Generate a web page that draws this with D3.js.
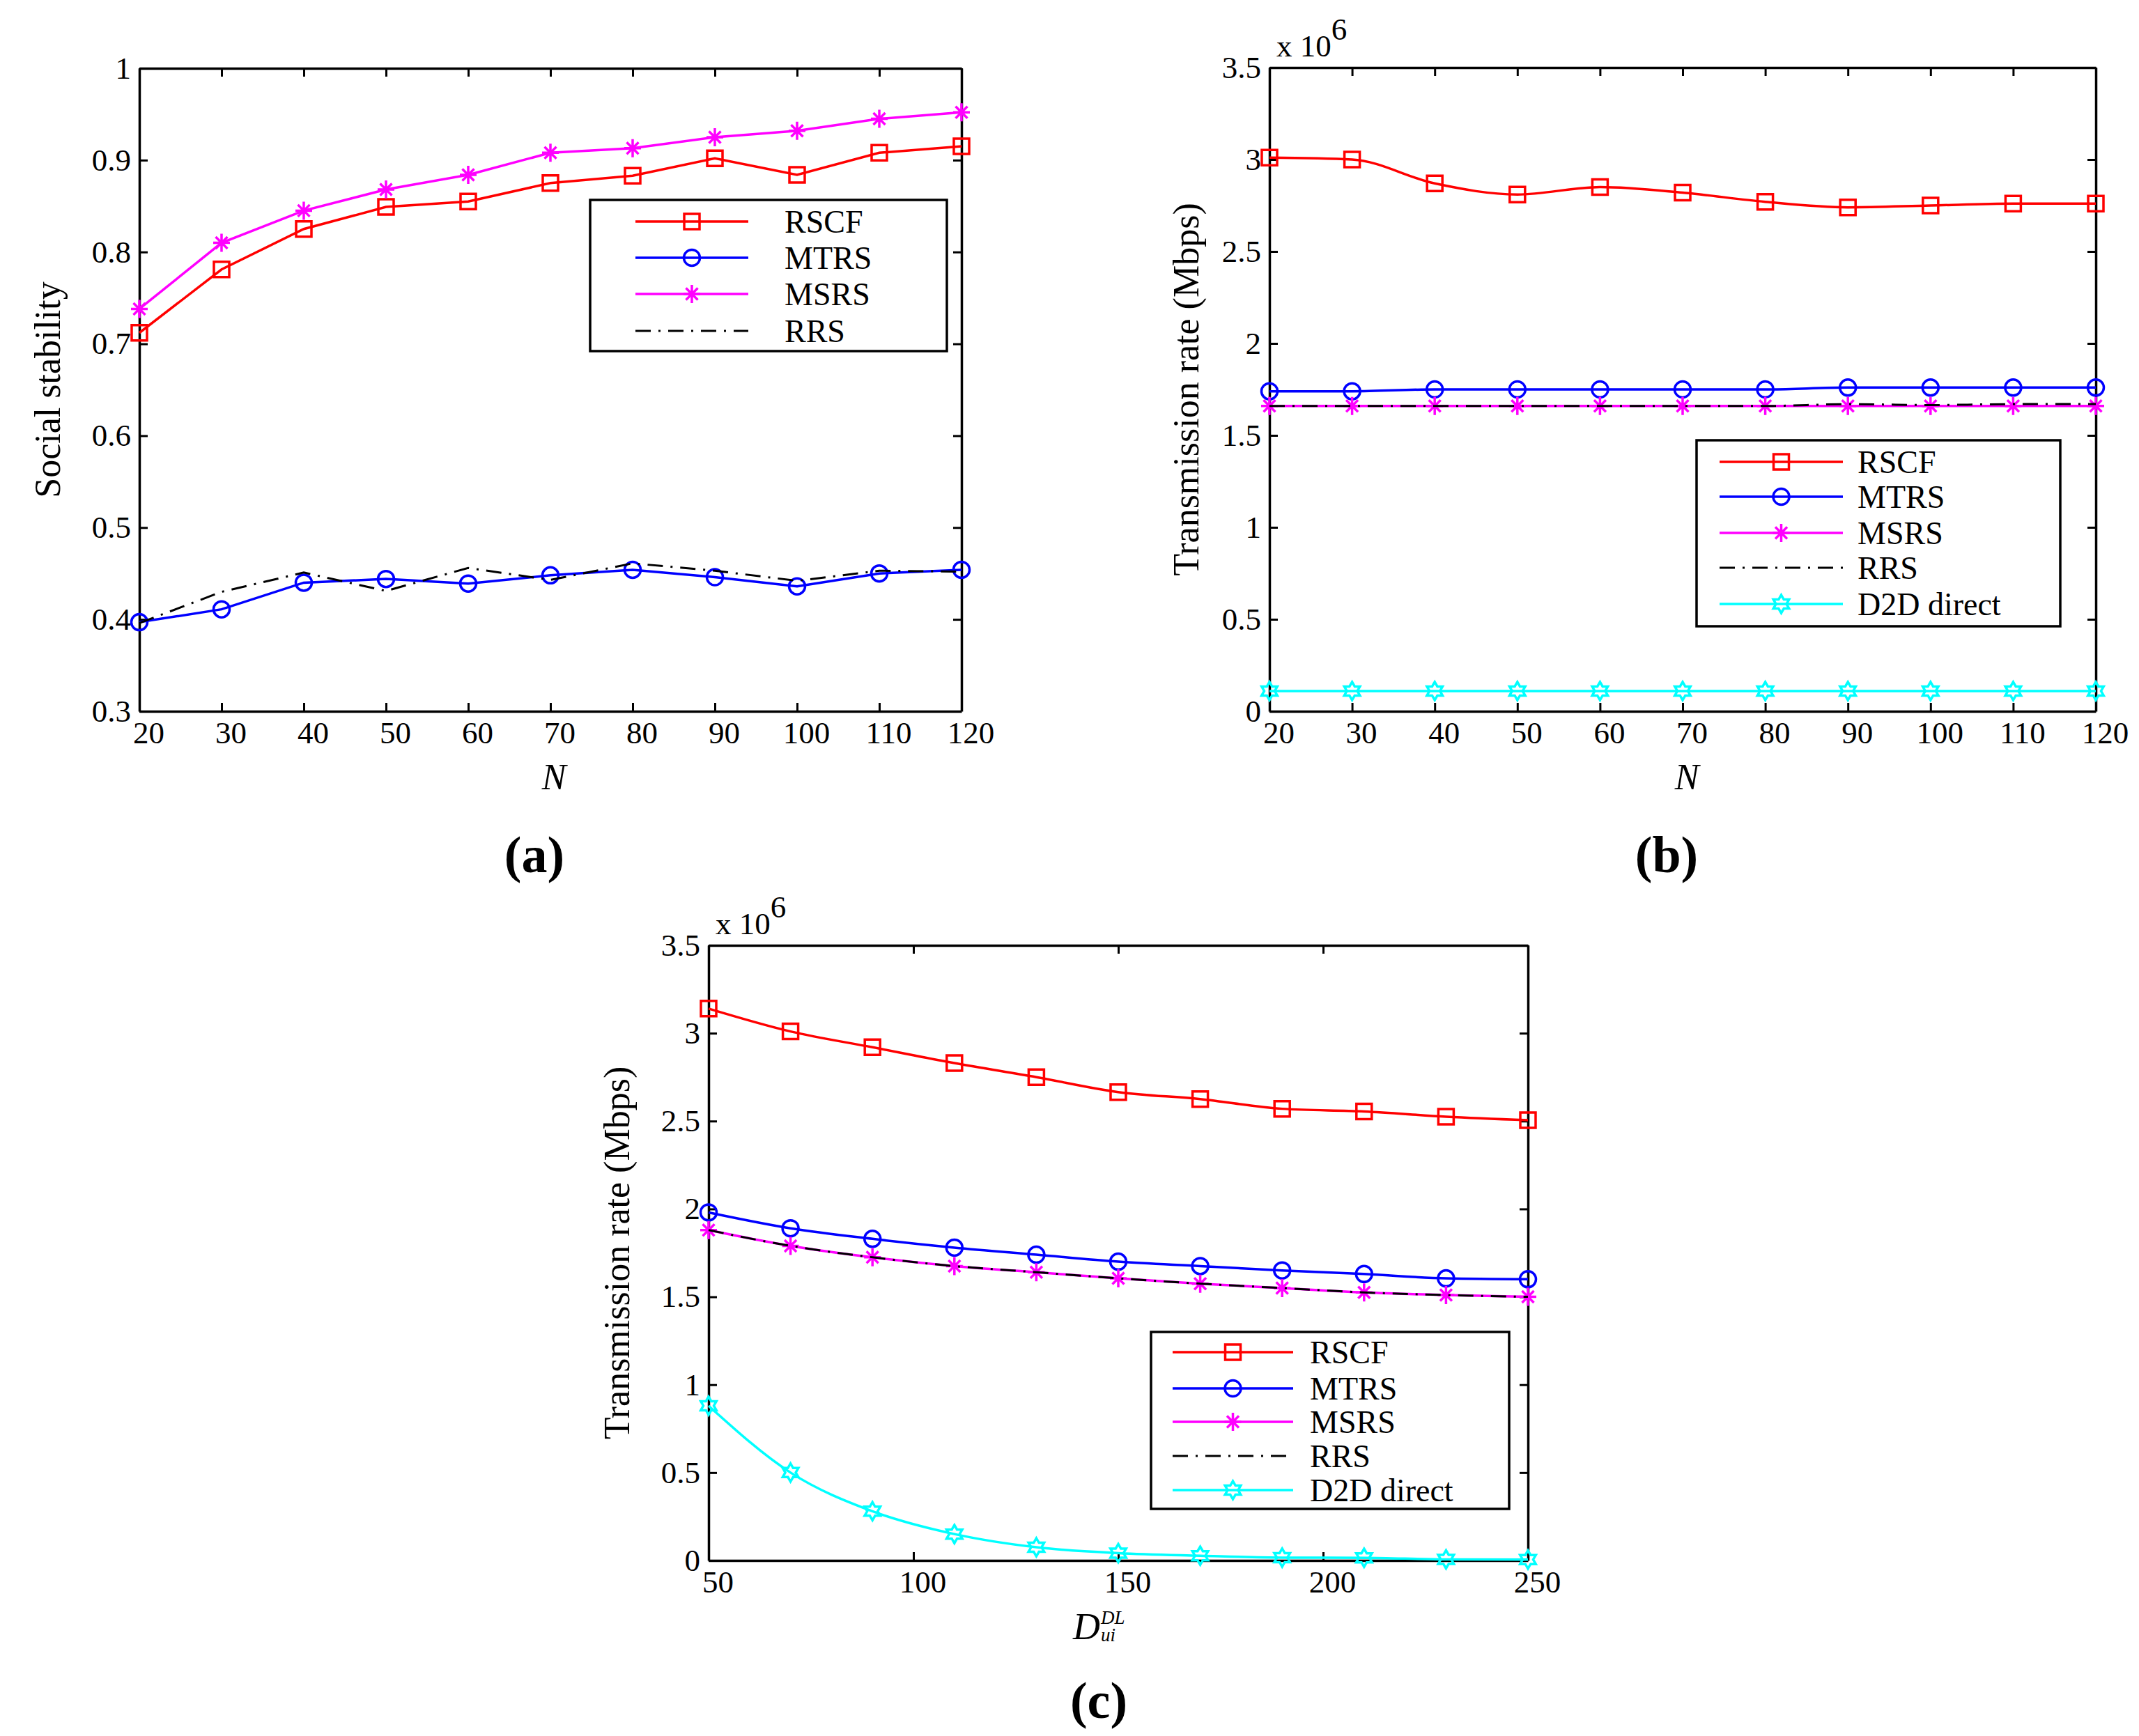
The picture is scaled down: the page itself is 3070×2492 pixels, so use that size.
<!DOCTYPE html>
<html>
<head>
<meta charset="utf-8">
<script src="https://cdn.jsdelivr.net/npm/d3@7"></script>
<style>
  body { margin: 0; background: #fff; }
  svg { display: block; font-family: 'Liberation Serif', 'Times New Roman', serif; }
</style>
</head>
<body>
<div id="chart"></div>
<script>
// values
let nValues = [20, 30, 40, 50, 60, 70, 80, 90, 100, 110, 120]
let distValues = [50, 70, 90, 110, 130, 150, 170, 190, 210, 230, 250]

// (a) social stability vs N
let stabRSCF = [0.712, 0.781, 0.825, 0.849, 0.855, 0.875, 0.883, 0.902, 0.884, 0.908, 0.915]
let stabMTRS = [0.397, 0.411, 0.440, 0.444, 0.439, 0.448, 0.454, 0.446, 0.436, 0.450, 0.454]
let stabMSRS = [0.738, 0.810, 0.845, 0.868, 0.884, 0.908, 0.913, 0.925, 0.932, 0.945, 0.952]
let stabRRS = [0.396, 0.430, 0.451, 0.431, 0.456, 0.443, 0.461, 0.453, 0.442, 0.453, 0.452]

// (b) transmission rate vs N  (x 10^6)
let rateNRSCF = [3.01, 3.00, 2.87, 2.81, 2.85, 2.82, 2.77, 2.74, 2.75, 2.76, 2.76]
let rateNMTRS = [1.74, 1.74, 1.75, 1.75, 1.75, 1.75, 1.75, 1.76, 1.76, 1.76, 1.76]
let rateNMSRS = [1.66, 1.66, 1.66, 1.66, 1.66, 1.66, 1.66, 1.66, 1.66, 1.66, 1.66]
let rateNRRS = [1.66, 1.66, 1.66, 1.66, 1.66, 1.66, 1.66, 1.67, 1.665, 1.67, 1.67]
let rateND2D = [0.11, 0.11, 0.11, 0.11, 0.11, 0.11, 0.11, 0.11, 0.11, 0.11, 0.11]

// (c) transmission rate vs D_ui^DL  (x 10^6)
let rateDRSCF = [3.14, 3.01, 2.92, 2.83, 2.75, 2.665, 2.625, 2.57, 2.555, 2.525, 2.505]
let rateDMTRS = [1.98, 1.89, 1.83, 1.78, 1.74, 1.70, 1.675, 1.65, 1.63, 1.605, 1.60]
let rateDMSRS = [1.88, 1.79, 1.725, 1.675, 1.64, 1.605, 1.575, 1.55, 1.525, 1.51, 1.50]
let rateDRRS = [1.88, 1.79, 1.725, 1.675, 1.64, 1.605, 1.575, 1.55, 1.525, 1.51, 1.50]
let rateDD2D = [0.88, 0.50, 0.28, 0.15, 0.075, 0.042, 0.027, 0.016, 0.015, 0.006, 0.005]

let stabTicks = [0.3, 0.4, 0.5, 0.6, 0.7, 0.8, 0.9, 1]
let rateTicks = [0, 0.5, 1, 1.5, 2, 2.5, 3, 3.5]
let nTicks = [20, 30, 40, 50, 60, 70, 80, 90, 100, 110, 120]
let distTicks = [50, 100, 150, 200, 250]

let seriesNames = ['RSCF', 'MTRS', 'MSRS', 'RRS', 'D2D direct']

let styles = {
    'RSCF': {color: '#ff0000', marker: 'square'},
    'MTRS': {color: '#0000ff', marker: 'circle'},
    'MSRS': {color: '#ff00ff', marker: 'star'},
    'RRS': {color: '#000000', marker: null, dash: '22,11,3,11'},
    'D2D direct': {color: '#00ffff', marker: 'hexagram'}
}

let svgWidth = 3070
let svgHeight = 2492
let tickFont = 45
let serif = "'Liberation Serif', 'Times New Roman', serif"

let svg = d3.select('#chart')
    .append('svg')
    .attr('width', svgWidth)
    .attr('height', svgHeight)

svg.append('rect').attr('width', svgWidth).attr('height', svgHeight).attr('fill', '#fff')

const markerPath = (type) => {
    let p = d3.path()
    if (type === 'square') {
        p.rect(-11, -11, 22, 22)
    } else if (type === 'circle') {
        p.moveTo(11.5, 0)
        p.arc(0, 0, 11.5, 0, Math.PI * 2)
        p.closePath()
    } else if (type === 'star') {
        p.moveTo(0, -13); p.lineTo(0, 13)
        p.moveTo(-12, 0); p.lineTo(12, 0)
        p.moveTo(-8.5, -8.5); p.lineTo(8.5, 8.5)
        p.moveTo(-8.5, 8.5); p.lineTo(8.5, -8.5)
    } else if (type === 'hexagram') {
        let R = 13, r = R / Math.sqrt(3)
        for (let k = 0; k < 12; k++) {
            let a = -Math.PI / 2 + k * Math.PI / 6
            let rad = (k % 2 === 0) ? R : r
            let px = rad * Math.cos(a), py = rad * Math.sin(a)
            if (k === 0) p.moveTo(px, py)
            else p.lineTo(px, py)
        }
        p.closePath()
    }
    return p.toString()
}

const drawPanel = (cfg) => {
    let g = svg.append('g')
    let x = d3.scaleLinear().domain(cfg.xDomain).range([cfg.left, cfg.right])
    let y = d3.scaleLinear().domain(cfg.yDomain).range([cfg.bottom, cfg.top])

    let styleAxis = (sel) => {
        sel.selectAll('path.domain').attr('stroke', '#000').attr('stroke-width', 3.5)
        sel.selectAll('.tick line').attr('stroke', '#000').attr('stroke-width', 3)
        sel.selectAll('text')
            .attr('font-family', serif)
            .attr('font-size', tickFont)
            .attr('fill', '#000')
        sel.attr('font-family', null).attr('font-size', null)
    }

    let fmt = cfg.tickFormat

    // bottom / left axes with labels, ticks pointing inward
    g.append('g')
        .attr('transform', `translate(0, ${cfg.bottom})`)
        .call(d3.axisBottom(x).tickValues(cfg.xTicks).tickSizeInner(-12).tickSizeOuter(0).tickPadding(14))
        .call(styleAxis)
        .selectAll('text').attr('dx', 13)

    g.append('g')
        .attr('transform', `translate(${cfg.left}, 0)`)
        .call(d3.axisLeft(y).tickValues(cfg.yTicks).tickFormat(fmt).tickSizeInner(-12).tickSizeOuter(0).tickPadding(12))
        .call(styleAxis)

    g.append('g')
        .attr('transform', `translate(0, ${cfg.top})`)
        .call(d3.axisTop(x).tickValues(cfg.xTicks).tickFormat('').tickSizeInner(-12).tickSizeOuter(0))
        .call(styleAxis)

    g.append('g')
        .attr('transform', `translate(${cfg.right}, 0)`)
        .call(d3.axisRight(y).tickValues(cfg.yTicks).tickFormat('').tickSizeInner(-12).tickSizeOuter(0))
        .call(styleAxis)

    let line = d3.line()
        .x(d => x(d[0]))
        .y(d => y(d[1]))
        .curve(cfg.curve)

    cfg.series.forEach(s => {
        let st = styles[s.name]
        let pts = cfg.xValues.map((xv, i) => [xv, s.values[i]])
        g.append('path')
            .datum(pts)
            .attr('d', line)
            .attr('fill', 'none')
            .attr('stroke', st.color)
            .attr('stroke-width', st.dash ? 3 : 3.5)
            .attr('stroke-dasharray', st.dash || null)
        if (st.marker) {
            g.selectAll(null)
                .data(pts)
                .enter()
                .append('path')
                .attr('transform', d => `translate(${x(d[0])}, ${y(d[1])})`)
                .attr('d', markerPath(st.marker))
                .attr('fill', 'none')
                .attr('stroke', st.color)
                .attr('stroke-width', 3.5)
        }
    })

    // legend
    let lg = cfg.legend
    let leg = g.append('g')
    leg.append('rect')
        .attr('x', lg.x0).attr('y', lg.y0)
        .attr('width', lg.x1 - lg.x0).attr('height', lg.y1 - lg.y0)
        .attr('fill', '#fff').attr('stroke', '#000').attr('stroke-width', 3.5)
    cfg.series.forEach((s, i) => {
        let st = styles[s.name]
        let ry = lg.rows[i]
        leg.append('line')
            .attr('x1', lg.lineX0).attr('x2', lg.lineX1)
            .attr('y1', ry).attr('y2', ry)
            .attr('stroke', st.color)
            .attr('stroke-width', st.dash ? 3 : 3.5)
            .attr('stroke-dasharray', st.dash || null)
        if (st.marker) {
            leg.append('path')
                .attr('transform', `translate(${(lg.lineX0 + lg.lineX1) / 2}, ${ry})`)
                .attr('d', markerPath(st.marker))
                .attr('fill', 'none')
                .attr('stroke', st.color)
                .attr('stroke-width', 3.5)
        }
        leg.append('text')
            .attr('x', lg.textX).attr('y', ry + 16)
            .attr('font-size', 46)
            .attr('font-family', serif)
            .text(s.name)
    })

    // y label
    g.append('text')
        .attr('transform', `translate(${cfg.yLabelX}, ${(cfg.top + cfg.bottom) / 2}) rotate(-90)`)
        .attr('text-anchor', 'middle')
        .attr('dominant-baseline', 'central')
        .attr('font-size', 52)
        .attr('font-family', serif)
        .text(cfg.yLabel)

    if (cfg.exponent) {
        let ex = g.append('text')
            .attr('x', cfg.left + 10).attr('y', cfg.top - 16)
            .attr('font-size', tickFont)
            .attr('font-family', serif)
        ex.append('tspan').text('x 10')
        ex.append('tspan').attr('dy', -24).text('6')
    }

    // panel tag
    g.append('text')
        .attr('x', cfg.tagX).attr('y', cfg.tagY)
        .attr('text-anchor', 'middle')
        .attr('font-size', 74)
        .attr('font-weight', 'bold')
        .attr('font-family', serif)
        .text(cfg.tag)

    return {g, x, y}
}

let fmtStab = d => d === 1 ? '1' : d.toFixed(1)
let fmtRate = d3.format('~g')

let pa = drawPanel({
    left: 200, right: 1380, top: 98, bottom: 1021,
    xDomain: [20, 120], yDomain: [0.3, 1],
    xTicks: nTicks, yTicks: stabTicks, tickFormat: fmtStab,
    xValues: nValues, curve: d3.curveLinear,
    series: [
        {name: 'RSCF', values: stabRSCF},
        {name: 'MTRS', values: stabMTRS},
        {name: 'MSRS', values: stabMSRS},
        {name: 'RRS', values: stabRRS}
    ],
    legend: {x0: 847, y0: 287, x1: 1359, y1: 504, rows: [318, 370, 422, 475], lineX0: 912, lineX1: 1074, textX: 1126},
    yLabel: 'Social stability', yLabelX: 68,
    tag: '(a)', tagX: 767, tagY: 1252
})

let pb = drawPanel({
    left: 1822, right: 3008, top: 97, bottom: 1021,
    xDomain: [20, 120], yDomain: [0, 3.5],
    xTicks: nTicks, yTicks: rateTicks, tickFormat: fmtRate,
    xValues: nValues, curve: d3.curveMonotoneX,
    series: [
        {name: 'RSCF', values: rateNRSCF},
        {name: 'MTRS', values: rateNMTRS},
        {name: 'MSRS', values: rateNMSRS},
        {name: 'RRS', values: rateNRRS},
        {name: 'D2D direct', values: rateND2D}
    ],
    legend: {x0: 2435, y0: 632, x1: 2957, y1: 899, rows: [663, 713, 765, 815, 867], lineX0: 2468, lineX1: 2645, textX: 2666},
    yLabel: 'Transmission rate (Mbps)', yLabelX: 1702, exponent: true,
    tag: '(b)', tagX: 2392, tagY: 1252
})

let pc = drawPanel({
    left: 1017, right: 2193, top: 1357, bottom: 2240,
    xDomain: [50, 250], yDomain: [0, 3.5],
    xTicks: distTicks, yTicks: rateTicks, tickFormat: fmtRate,
    xValues: distValues, curve: d3.curveMonotoneX,
    series: [
        {name: 'RSCF', values: rateDRSCF},
        {name: 'MTRS', values: rateDMTRS},
        {name: 'MSRS', values: rateDMSRS},
        {name: 'RRS', values: rateDRRS},
        {name: 'D2D direct', values: rateDD2D}
    ],
    legend: {x0: 1652, y0: 1912, x1: 2166, y1: 2166, rows: [1941, 1993, 2041, 2090, 2139], lineX0: 1683, lineX1: 1856, textX: 1880},
    yLabel: 'Transmission rate (Mbps)', yLabelX: 885, exponent: true,
    tag: '(c)', tagX: 1577, tagY: 2466
})

// x axis titles
svg.append('text')
    .attr('x', 795).attr('y', 1133)
    .attr('text-anchor', 'middle')
    .attr('font-size', 52).attr('font-style', 'italic').attr('font-family', serif)
    .text('N')

svg.append('text')
    .attr('x', 2421).attr('y', 1133)
    .attr('text-anchor', 'middle')
    .attr('font-size', 52).attr('font-style', 'italic').attr('font-family', serif)
    .text('N')

let dl = svg.append('g').attr('font-family', serif).attr('font-style', 'italic')
dl.append('text').attr('x', 1540).attr('y', 2353).attr('font-size', 54).text('D')
dl.append('text').attr('x', 1580).attr('y', 2331).attr('font-size', 27).text('DL')
dl.append('text').attr('x', 1580).attr('y', 2356).attr('font-size', 27).text('ui')
</script>
</body>
</html>
